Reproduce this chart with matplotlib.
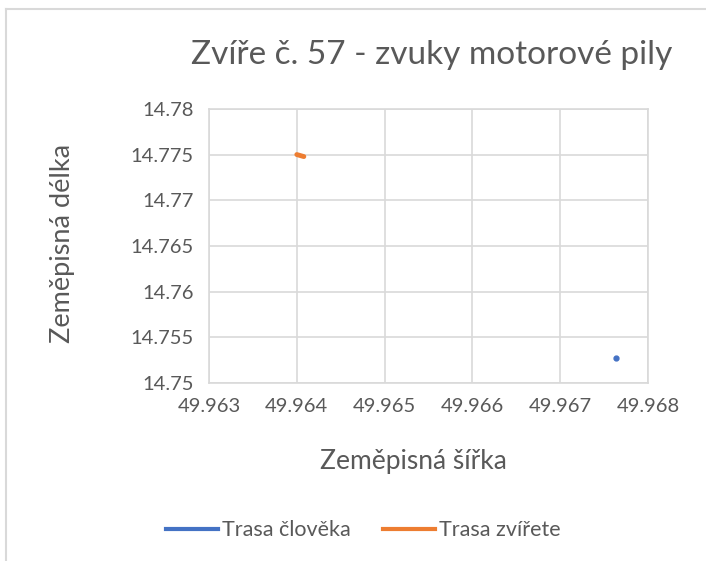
import matplotlib
matplotlib.use('Agg')
import matplotlib.pyplot as plt
from matplotlib.lines import Line2D

plt.rcParams['font.family'] = ['Lato', 'DejaVu Sans']

# data
human_lat = [49.96763]
human_lon = [14.7528]
animal_lat = [49.96400, 49.96408]
animal_lon = [14.77500, 14.77478]

x_ticks = [49.963, 49.964, 49.965, 49.966, 49.967, 49.968]
y_ticks = [14.75, 14.755, 14.76, 14.765, 14.77, 14.775, 14.78]
x_labels = ['49.963', '49.964', '49.965', '49.966', '49.967', '49.968']
y_labels = ['14.75', '14.755', '14.76', '14.765', '14.77', '14.775', '14.78']

BLUE = '#4472C4'
ORANGE = '#ED7D31'
TEXT = '#595959'
GRID = '#D9D9D9'

fig = plt.figure(figsize=(7.06, 5.61), dpi=100)
ax = fig.add_axes([0.296, 0.317, 0.622, 0.489])

ax.plot(human_lat, human_lon, color=BLUE, lw=2.5, marker='o', ms=3.5, mec=BLUE, solid_capstyle='round')
ax.plot(animal_lat, animal_lon, color=ORANGE, lw=3.5, solid_capstyle='round')

ax.set_xlim(x_ticks[0], x_ticks[-1])
ax.set_ylim(y_ticks[0], y_ticks[-1])
ax.set_xticks(x_ticks)
ax.set_xticklabels(x_labels)
ax.set_yticks(y_ticks)
ax.set_yticklabels(y_labels)
ax.grid(True, color=GRID, lw=1.2)
ax.set_axisbelow(True)
for side in ['top', 'right', 'bottom', 'left']:
    ax.spines[side].set_color(GRID)
    ax.spines[side].set_linewidth(1.2)
ax.tick_params(length=0, labelsize=14.5, labelcolor=TEXT, pad=11)

fig.text(0.611, 0.902, 'Zvíře č. 57 - zvuky motorové pily', ha='center', va='center',
         fontsize=24, color=TEXT)
ax.set_xlabel('Zeměpisná šířka', fontsize=19, color=TEXT)
ax.set_ylabel('Zeměpisná délka', fontsize=19.5, color=TEXT)
ax.xaxis.set_label_coords(0.466, -0.24)
ax.yaxis.set_label_coords(-0.304, 0.51)

handles = [Line2D([0], [0], color=BLUE, lw=3), Line2D([0], [0], color=ORANGE, lw=3)]
fig.legend(handles, ['Trasa člověka', 'Trasa zvířete'], loc='center', bbox_to_anchor=(0.515, 0.055),
           ncol=2, frameon=False, fontsize=15.5, labelcolor=TEXT, handlelength=2.4,
           handletextpad=0.2, columnspacing=1.5)

# chart frame (only top and left edges visible in the reference)
fig.add_artist(Line2D([6 / 706, 1], [1 - 9 / 561, 1 - 9 / 561], color=GRID, lw=1.5, transform=fig.transFigure))
fig.add_artist(Line2D([6 / 706, 6 / 706], [0, 1 - 9 / 561], color=GRID, lw=1.5, transform=fig.transFigure))

fig.savefig('out.png', dpi=100, facecolor='white')
